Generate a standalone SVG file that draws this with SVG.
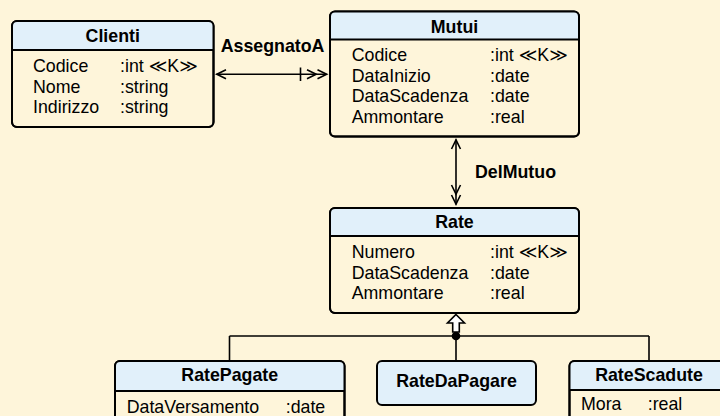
<svg xmlns="http://www.w3.org/2000/svg" width="720" height="416" viewBox="0 0 720 416">
<defs>
<style>
.bg{fill:#fef5da}
.box{fill:#fef5da;stroke:#000;stroke-width:2}
.hdr{fill:#e1f0fa}
.div{stroke:#000;stroke-width:2}
.t{font-family:"Liberation Sans",Arial,"DejaVu Sans",sans-serif;font-size:17.8px;fill:#000}
.b{font-weight:bold;text-anchor:middle}
.lb{font-family:"Liberation Sans",Arial,sans-serif;font-size:17.8px;font-weight:bold;fill:#000}
.ln{fill:none;stroke:#000;stroke-width:1.6}
</style>
<clipPath id="cClienti"><rect x="12" y="21" width="201.5" height="106" rx="5"/></clipPath>
<clipPath id="cMutui"><rect x="330" y="11.5" width="249" height="125" rx="5"/></clipPath>
<clipPath id="cRate"><rect x="330" y="208" width="249" height="105" rx="5"/></clipPath>
<clipPath id="cRP"><rect x="115" y="361" width="229.5" height="80" rx="5"/></clipPath>
<clipPath id="cRD"><rect x="377" y="361" width="159" height="44" rx="5"/></clipPath>
<clipPath id="cRS"><rect x="569.5" y="361" width="159" height="80" rx="5"/></clipPath>
</defs>
<rect class="bg" x="0" y="0" width="720" height="416"/>

<g id="Clienti">
<rect class="box" x="12" y="21" width="201.5" height="106" rx="5"/>
<rect class="hdr" x="12" y="21" width="201.5" height="29" clip-path="url(#cClienti)"/>
<rect x="12" y="21" width="201.5" height="106" rx="5" fill="none" stroke="#000" stroke-width="2"/>
<line class="div" x1="12" y1="50" x2="213.5" y2="50"/>
<text class="t b" x="112.75" y="42.3">Clienti</text>
<text class="t" x="33" y="72">Codice</text><text class="t" x="120" y="72">:int ≪K≫</text>
<text class="t" x="33" y="92.6">Nome</text><text class="t" x="120" y="92.6">:string</text>
<text class="t" x="33" y="113.2">Indirizzo</text><text class="t" x="120" y="113.2">:string</text>
</g>

<g id="Mutui">
<rect class="box" x="330" y="11.5" width="249" height="125" rx="5"/>
<rect class="hdr" x="330" y="11.5" width="249" height="28" clip-path="url(#cMutui)"/>
<rect x="330" y="11.5" width="249" height="125" rx="5" fill="none" stroke="#000" stroke-width="2"/>
<line class="div" x1="330" y1="39.5" x2="579" y2="39.5"/>
<text class="t b" x="454.5" y="32.5">Mutui</text>
<text class="t" x="351.7" y="61">Codice</text><text class="t" x="490" y="61">:int ≪K≫</text>
<text class="t" x="351.7" y="81.7">DataInizio</text><text class="t" x="490" y="81.7">:date</text>
<text class="t" x="351.7" y="102.4">DataScadenza</text><text class="t" x="490" y="102.4">:date</text>
<text class="t" x="351.7" y="123.1">Ammontare</text><text class="t" x="490" y="123.1">:real</text>
</g>

<g id="Rate">
<rect class="box" x="330" y="208" width="249" height="105" rx="5"/>
<rect class="hdr" x="330" y="208" width="249" height="28" clip-path="url(#cRate)"/>
<rect x="330" y="208" width="249" height="105" rx="5" fill="none" stroke="#000" stroke-width="2"/>
<line class="div" x1="330" y1="236" x2="579" y2="236"/>
<text class="t b" x="454.5" y="228.3">Rate</text>
<text class="t" x="351.7" y="258.3">Numero</text><text class="t" x="490" y="258.3">:int ≪K≫</text>
<text class="t" x="351.7" y="278.7">DataScadenza</text><text class="t" x="490" y="278.7">:date</text>
<text class="t" x="351.7" y="299.1">Ammontare</text><text class="t" x="490" y="299.1">:real</text>
</g>

<g id="RatePagate">
<rect class="box" x="115" y="361" width="229.5" height="80" rx="5"/>
<rect class="hdr" x="115" y="361" width="229.5" height="30" clip-path="url(#cRP)"/>
<rect x="115" y="361" width="229.5" height="80" rx="5" fill="none" stroke="#000" stroke-width="2"/>
<line class="div" x1="115" y1="391" x2="344.5" y2="391"/>
<text class="t b" x="229.75" y="381">RatePagate</text>
<text class="t" x="126.7" y="413.3">DataVersamento</text><text class="t" x="285.7" y="413.3">:date</text>
</g>

<g id="RateDaPagare">
<rect class="box" x="377" y="361" width="159" height="44" rx="5" style="fill:#e1f0fa"/>
<text class="t b" x="456.5" y="386.7">RateDaPagare</text>
</g>

<g id="RateScadute">
<rect class="box" x="569.5" y="361" width="159" height="80" rx="5"/>
<rect class="hdr" x="569.5" y="361" width="159" height="29" clip-path="url(#cRS)"/>
<rect x="569.5" y="361" width="159" height="80" rx="5" fill="none" stroke="#000" stroke-width="2"/>
<line class="div" x1="569.5" y1="390" x2="728.5" y2="390"/>
<text class="t b" x="649" y="381">RateScadute</text>
<text class="t" x="581" y="410">Mora</text><text class="t" x="647.7" y="410">:real</text>
</g>

<g id="connectors">
<!-- AssegnatoA -->
<line class="ln" x1="216.5" y1="74.3" x2="326.5" y2="74.3"/>
<polyline class="ln" points="226,69.8 216.8,74.3 226,78.8"/>
<polyline class="ln" points="307,69.8 316.2,74.3 307,78.8"/>
<polyline class="ln" points="317.5,69.8 326.7,74.3 317.5,78.8"/>
<line class="ln" x1="300.5" y1="67.5" x2="300.5" y2="81"/>
<text class="lb" x="220.7" y="51.7">AssegnatoA</text>
<!-- DelMutuo -->
<line class="ln" x1="456" y1="139.5" x2="456" y2="204.5"/>
<polyline class="ln" points="451.5,149 456,139.8 460.5,149"/>
<polyline class="ln" points="451.5,185 456,194.2 460.5,185"/>
<polyline class="ln" points="451.5,195 456,204.2 460.5,195"/>
<text class="lb" x="475" y="178.3">DelMutuo</text>
<!-- Generalization -->
<line class="ln" x1="229.5" y1="336" x2="649" y2="336"/>
<line class="ln" x1="229.5" y1="336" x2="229.5" y2="361"/>
<line class="ln" x1="649" y1="336" x2="649" y2="361"/>
<line class="ln" x1="456" y1="331" x2="456" y2="361"/>
<circle cx="456" cy="336" r="4.3" fill="#000"/>
<polygon points="456,314.5 464.5,323 459.3,323 459.3,332 452.7,332 452.7,323 447.5,323" fill="#fff" stroke="#000" stroke-width="1.6" stroke-linejoin="miter"/>
</g>
</svg>
